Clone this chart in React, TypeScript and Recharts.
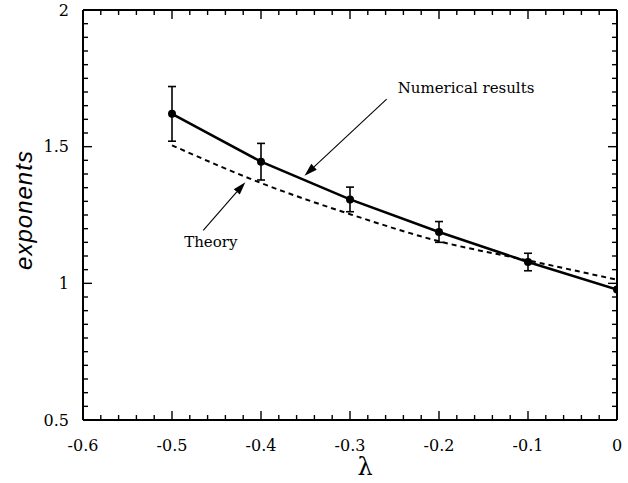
import React from 'react';
import {
  ComposedChart, Line, XAxis, YAxis, ErrorBar, ReferenceLine, ReferenceDot,
} from 'recharts';

const lambdas = [-0.5, -0.4, -0.3, -0.2, -0.1, 0];
const numericalValues = [1.62, 1.445, 1.307, 1.188, 1.078, 0.977];
const numericalErrors = [0.1, 0.067, 0.045, 0.038, 0.032, null];
const theoryValues = [1.505, 1.367, 1.253, 1.154, 1.084, 1.013];

const xMajorTicks = [-0.6, -0.5, -0.4, -0.3, -0.2, -0.1, 0];
const yMajorTicks = [0.5, 1, 1.5, 2];
const xTickLabels = ['-0.6', '-0.5', '-0.4', '-0.3', '-0.2', '-0.1', '0'];
const yTickLabels = ['0.5', '1', '1.5', '2'];

const xMinorTicks = Array.from({ length: 31 }, (_, i) => Math.round((-0.6 + i * 0.02) * 1000) / 1000);
const yMinorTicks = Array.from({ length: 31 }, (_, i) => Math.round((0.5 + i * 0.05) * 1000) / 1000);

const numericalData = lambdas.map((x, i) => ({ x, y: numericalValues[i], err: numericalErrors[i] }));
const theoryData = lambdas.map((x, i) => ({ x, y: theoryValues[i] }));

const numericalLabel = { x: -0.2464, y: 1.714, text: 'Numerical results' };
const theoryLabel = { x: -0.4863, y: 1.15, text: 'Theory' };
const numericalArrow = [{ x: -0.2588, y: 1.674 }, { x: -0.3511, y: 1.394 }];
const theoryArrow = [{ x: -0.4649, y: 1.194 }, { x: -0.4176, y: 1.37 }];

const MAJOR = 9;
const MINOR = 5;
const TICK_STROKE = 1.4;
const serif = 'DejaVu Serif';

const isMajor = (v: number, list: number[]) => list.some((m) => Math.abs(m - v) < 1e-6);
const labelFor = (v: number, list: number[], labels: string[]) => {
  const i = list.findIndex((m) => Math.abs(m - v) < 1e-6);
  return i >= 0 ? labels[i] : '';
};

const BottomTick = (props: any) => {
  const { x, y, payload } = props;
  const major = isMajor(payload.value, xMajorTicks);
  return (
    <g>
      <line x1={x} y1={y} x2={x} y2={y - (major ? MAJOR : MINOR)} stroke="#000" strokeWidth={TICK_STROKE} />
      {major && (
        <text x={x} y={y + 25} textAnchor="middle" dominantBaseline="central" fontFamily={serif} fontSize={16} fill="#000">
          {labelFor(payload.value, xMajorTicks, xTickLabels)}
        </text>
      )}
    </g>
  );
};

const TopTick = (props: any) => {
  const { x, y, payload } = props;
  const major = isMajor(payload.value, xMajorTicks);
  return <line x1={x} y1={y} x2={x} y2={y + (major ? MAJOR : MINOR)} stroke="#000" strokeWidth={TICK_STROKE} />;
};

const LeftTick = (props: any) => {
  const { x, y, payload } = props;
  const major = isMajor(payload.value, yMajorTicks);
  return (
    <g>
      <line x1={x} y1={y} x2={x + (major ? MAJOR : MINOR)} y2={y} stroke="#000" strokeWidth={TICK_STROKE} />
      {major && (
        <text x={x - 14} y={y} textAnchor="end" dominantBaseline="central" fontFamily={serif} fontSize={16} fill="#000">
          {labelFor(payload.value, yMajorTicks, yTickLabels)}
        </text>
      )}
    </g>
  );
};

const RightTick = (props: any) => {
  const { x, y, payload } = props;
  const major = isMajor(payload.value, yMajorTicks);
  return <line x1={x} y1={y} x2={x - (major ? MAJOR : MINOR)} y2={y} stroke="#000" strokeWidth={TICK_STROKE} />;
};

const Arrow = (props: any) => {
  const { x1, y1, x2, y2 } = props;
  const ang = Math.atan2(y2 - y1, x2 - x1);
  const len = 13;
  const half = 4;
  const bx = x2 - len * Math.cos(ang);
  const by = y2 - len * Math.sin(ang);
  const px = -Math.sin(ang) * half;
  const py = Math.cos(ang) * half;
  return (
    <g>
      <line x1={x1} y1={y1} x2={bx} y2={by} stroke="#000" strokeWidth={1.1} />
      <polygon points={`${x2},${y2} ${bx + px},${by + py} ${bx - px},${by - py}`} fill="#000" />
    </g>
  );
};

const textShape = (text: string) => (props: any) => (
  <text x={props.cx} y={props.cy} dominantBaseline="central" fontFamily={serif} fontSize={15} fill="#000">
    {text}
  </text>
);

export default function App() {
  return (
    <div style={{ position: 'absolute', left: 0, top: 0, background: '#fff' }}>
      <ComposedChart width={628} height={483} margin={{ top: 9, right: 10, bottom: 0, left: 0 }}>
        <XAxis
          xAxisId="b"
          type="number"
          dataKey="x"
          domain={[-0.6, 0]}
          ticks={xMinorTicks}
          interval={0}
          orientation="bottom"
          height={63}
          tickSize={0}
          tickMargin={0}
          tickLine={false}
          tick={<BottomTick />}
          axisLine={{ stroke: '#000', strokeWidth: 2 }}
          allowDataOverflow
          label={{
            content: (p: any) => (
              <text
                x={p.viewBox.x + p.viewBox.width / 2 + 15}
                y={p.viewBox.y + 47}
                textAnchor="middle"
                dominantBaseline="central"
                fontFamily={serif}
                fontSize={24}
                fill="#000"
              >
                λ
              </text>
            ),
          }}
        />
        <XAxis
          xAxisId="t"
          type="number"
          dataKey="x"
          domain={[-0.6, 0]}
          ticks={xMinorTicks}
          interval={0}
          orientation="top"
          height={1}
          tickSize={0}
          tickMargin={0}
          tickLine={false}
          tick={<TopTick />}
          axisLine={{ stroke: '#000', strokeWidth: 2 }}
          allowDataOverflow
        />
        <YAxis
          yAxisId="l"
          type="number"
          domain={[0.5, 2]}
          ticks={yMinorTicks}
          interval={0}
          orientation="left"
          width={83}
          tickSize={0}
          tickMargin={0}
          tickLine={false}
          tick={<LeftTick />}
          axisLine={{ stroke: '#000', strokeWidth: 2 }}
          allowDataOverflow
          label={{
            content: (p: any) => {
              const cx = 23;
              const cy = p.viewBox.y + p.viewBox.height / 2 - 5;
              return (
                <text
                  x={cx}
                  y={cy}
                  transform={`rotate(-90 ${cx} ${cy})`}
                  textAnchor="middle"
                  dominantBaseline="central"
                  fontFamily="Liberation Sans"
                  fontStyle="italic"
                  fontSize={24}
                  letterSpacing={1}
                  fill="#000"
                >
                  exponents
                </text>
              );
            },
          }}
        />
        <YAxis
          yAxisId="r"
          type="number"
          domain={[0.5, 2]}
          ticks={yMinorTicks}
          interval={0}
          orientation="right"
          width={1}
          tickSize={0}
          tickMargin={0}
          tickLine={false}
          tick={<RightTick />}
          axisLine={{ stroke: '#000', strokeWidth: 2 }}
          allowDataOverflow
        />
        <Line
          xAxisId="b"
          yAxisId="l"
          data={theoryData}
          dataKey="y"
          type="monotone"
          stroke="#000"
          strokeWidth={2}
          strokeDasharray="5 4"
          dot={false}
          activeDot={false}
          isAnimationActive={false}
        />
        <Line
          xAxisId="b"
          yAxisId="l"
          data={numericalData}
          dataKey="y"
          type="linear"
          stroke="#000"
          strokeWidth={2.5}
          dot={{ r: 4, fill: '#000', stroke: '#000', strokeWidth: 0 }}
          activeDot={false}
          isAnimationActive={false}
        >
          <ErrorBar dataKey="err" direction="y" width={4} stroke="#000" strokeWidth={1.6} isAnimationActive={false} />
        </Line>
        <ReferenceLine xAxisId="b" yAxisId="l" segment={numericalArrow} shape={<Arrow />} ifOverflow="visible" />
        <ReferenceLine xAxisId="b" yAxisId="l" segment={theoryArrow} shape={<Arrow />} ifOverflow="visible" />
        <ReferenceDot xAxisId="b" yAxisId="l" x={numericalLabel.x} y={numericalLabel.y} r={0} shape={textShape(numericalLabel.text)} ifOverflow="visible" />
        <ReferenceDot xAxisId="b" yAxisId="l" x={theoryLabel.x} y={theoryLabel.y} r={0} shape={textShape(theoryLabel.text)} ifOverflow="visible" />
      </ComposedChart>
    </div>
  );
}
